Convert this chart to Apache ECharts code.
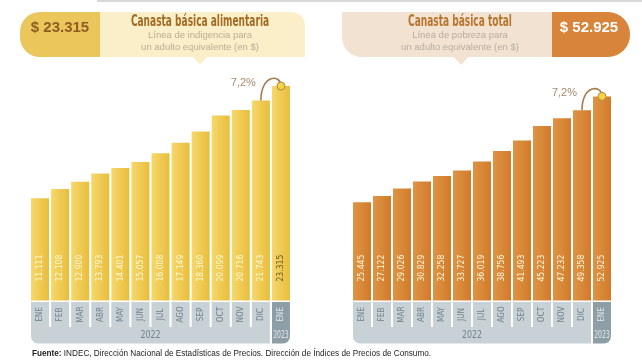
<!DOCTYPE html>
<html>
<head>
<meta charset="utf-8">
<script src="https://cdn.jsdelivr.net/npm/echarts@6/dist/echarts.min.js"></script>
<style>
html,body{margin:0;padding:0;background:#fff;}
#c{width:642px;height:361px;}
</style>
</head>
<body>
<div id="c"></div>
<script>
// ---- data ----
const months = ['ENE','FEB','MAR','ABR','MAY','JUN','JUL','AGO','SEP','OCT','NOV','DIC','ENE'];
const yearOf = ['2022','2022','2022','2022','2022','2022','2022','2022','2022','2022','2022','2022','2023'];
const cbaValues = [11111,12108,12900,13793,14401,15057,16008,17149,18360,20099,20716,21743,23315];
const cbtValues = [25445,27122,29026,30829,32258,33727,36019,38756,41493,45223,47232,49358,52925];
const cbaTitle = 'Canasta básica alimentaria';
const cbaSub = ['Línea de indigencia para', 'un adulto equivalente (en $)'];
const cbtTitle = 'Canasta básica total';
const cbtSub = ['Línea de pobreza para', 'un adulto equivalente (en $)'];
const cbaChange = '7,2%';
const cbtChange = '7,2%';
const sourceBold = 'Fuente:';
const sourceText = ' INDEC, Dirección Nacional de Estadísticas de Precios. Dirección de Índices de Precios de Consumo.';

// ---- helpers ----
const fmt = v => String(v).replace(/\B(?=(\d{3})+(?!\d))/g, '.');
const NARROW = '"DejaVu Sans Condensed","Liberation Sans Narrow",sans-serif';
const SANS = '"Liberation Sans",Arial,sans-serif';

const chart = echarts.init(document.getElementById('c'), null, {renderer: 'canvas'});

function barSeries(idx, values, c1, c2, lastLabelColor) {
  return {
    type: 'bar', xAxisIndex: idx, yAxisIndex: idx, barWidth: 18,
    data: values.map((v, i) => ({
      value: v,
      label: i === values.length - 1 ? {color: lastLabelColor} : undefined
    })),
    itemStyle: {
      color: new echarts.graphic.LinearGradient(0, 0, 1, 0, [
        {offset: 0, color: c1}, {offset: 1, color: c2}
      ])
    },
    label: {
      show: true, position: 'insideBottom', rotate: 90, align: 'left',
      verticalAlign: 'middle', distance: 19,
      fontFamily: NARROW, fontSize: 8.5, color: '#fff8dc',
      formatter: p => fmt(p.value)
    },
    silent: true, z: 2
  };
}

function cellSeries(idx) {
  return {
    type: 'custom', xAxisIndex: idx, yAxisIndex: idx, clip: false, silent: true, z: 3,
    data: months.map((m, i) => [i, 0]),
    renderItem: (params, api) => {
      const i = params.dataIndex;
      const p = api.coord([i, 0]);
      const cx = p[0], base = p[1];
      const lastYear = yearOf[yearOf.length - 1];
      const dark = yearOf[i] === lastYear;
      const cellColor = dark ? '#8e9ea7' : '#c7d1d6';
      const textColor = dark ? '#dfe6ea' : '#72828b';
      const children = [
        {type: 'rect', shape: {x: cx - 9, y: base + 1.5, width: 18, height: 25}, style: {fill: cellColor}},
        {type: 'text', x: cx, y: base + 14, rotation: Math.PI / 2, scaleX: 0.9,
         style: {text: months[i], fontFamily: NARROW, fontSize: 9, fill: textColor, align: 'center', verticalAlign: 'middle'}}
      ];
      if (i === 0 || yearOf[i] !== yearOf[i - 1]) {
        let j = i;
        while (j + 1 < yearOf.length && yearOf[j + 1] === yearOf[i]) j++;
        const x0 = cx - 9;
        const x1 = api.coord([j, 0])[0] + 9;
        const isFirst = i === 0;
        const isLast = j === yearOf.length - 1;
        children.push({type: 'rect',
          shape: {x: x0, y: base + 26.5, width: x1 - x0, height: 16.5, r: [0, 0, isLast ? 7 : 0, isFirst ? 7 : 0]},
          style: {fill: cellColor}});
        children.push({type: 'text', x: (x0 + x1) / 2, y: base + 34.5, scaleX: dark ? 0.62 : 0.8,
          style: {text: yearOf[i], fontFamily: NARROW, fontSize: 11, fill: textColor, align: 'center', verticalAlign: 'middle'}});
      }
      return {type: 'group', children};
    }
  };
}

function changeSeries(idx, values, label) {
  const n = values.length;
  return {
    type: 'custom', xAxisIndex: idx, yAxisIndex: idx, clip: false, silent: true, z: 4,
    data: [[n - 2, values[n - 2], n - 1, values[n - 1]]],
    encode: {x: [0, 2], y: [1, 3]},
    renderItem: (params, api) => {
      const p1 = api.coord([api.value(0), api.value(1)]);
      const p2 = api.coord([api.value(2), api.value(3)]);
      const top = p2[1] - 12;
      return {type: 'group', children: [
        {type: 'bezierCurve', shape: {x1: p1[0], y1: p1[1], cpx1: p1[0], cpy1: top, cpx2: p2[0], cpy2: top, x2: p2[0], y2: p2[1]},
         style: {stroke: '#a67c52', lineWidth: 1.6, fill: null}},
        {type: 'circle', shape: {cx: p2[0], cy: p2[1], r: 4}, style: {fill: '#f4d444', stroke: '#b08a4a', lineWidth: 1}},
        {type: 'text', x: p1[0] - 5, y: p2[1] - 3,
         style: {text: label, fontFamily: SANS, fontSize: 11, fill: '#a98b6b', align: 'right', verticalAlign: 'middle'}}
      ]};
    }
  };
}

const option = {
  animation: false,
  backgroundColor: '#ffffff',
  grid: [
    {left: 30, width: 261, top: 61.3, bottom: 60.5},
    {left: 352, width: 260, top: 69.1, bottom: 60.5}
  ],
  xAxis: [
    {gridIndex: 0, type: 'category', data: months, axisLine: {show: false}, axisTick: {show: false}, axisLabel: {show: false}},
    {gridIndex: 1, type: 'category', data: months, axisLine: {show: false}, axisTick: {show: false}, axisLabel: {show: false}}
  ],
  yAxis: [
    {gridIndex: 0, type: 'value', min: 0, max: 26000, show: false, splitLine: {show: false}},
    {gridIndex: 1, type: 'value', min: 0, max: 60000, show: false, splitLine: {show: false}}
  ],
  series: [
    barSeries(0, cbaValues, '#f6d86a', '#e8bd3c', '#6e5b26'),
    barSeries(1, cbtValues, '#de9445', '#d17b2a', '#fff3e0'),
    cellSeries(0),
    cellSeries(1),
    changeSeries(0, cbaValues, cbaChange),
    changeSeries(1, cbtValues, cbtChange)
  ],
  graphic: [
    {type: 'rect', shape: {x: 97, y: 0, width: 545, height: 2}, style: {fill: '#d8d8d8'}, silent: true},
    // left header
    {type: 'rect', shape: {x: 90, y: 12, width: 215, height: 45, r: [0, 14, 0, 0]}, style: {fill: '#fbefc9'}, silent: true},
    {type: 'rect', shape: {x: 20, y: 12, width: 80, height: 45, r: [20, 0, 0, 20]}, style: {fill: '#ebc65b'}, silent: true},
    {type: 'polygon', shape: {points: [[192, 56], [208, 56], [200, 65]]}, style: {fill: '#fbefc9'}, silent: true},
    {type: 'text', x: 60, y: 28, style: {text: '$ ' + fmt(cbaValues[cbaValues.length - 1]), fontFamily: SANS, fontWeight: 'bold', fontSize: 15, fill: '#8f5d22', align: 'center', verticalAlign: 'middle'}},
    {type: 'text', x: 200, y: 22.5, scaleX: 0.67, style: {text: cbaTitle, fontFamily: NARROW, fontWeight: 'bold', fontSize: 15, fill: '#a36a22', align: 'center', verticalAlign: 'middle'}},
    {type: 'text', x: 200, y: 35, style: {text: cbaSub[0], fontFamily: SANS, fontSize: 9.5, fill: '#b8ad96', align: 'center', verticalAlign: 'middle'}},
    {type: 'text', x: 200, y: 47, style: {text: cbaSub[1], fontFamily: SANS, fontSize: 9.5, fill: '#b8ad96', align: 'center', verticalAlign: 'middle'}},
    // right header
    {type: 'rect', shape: {x: 342, y: 12, width: 220, height: 45, r: [0, 0, 0, 20]}, style: {fill: '#f2e2d2'}, silent: true},
    {type: 'rect', shape: {x: 552, y: 12, width: 78, height: 45, r: [0, 22, 22, 0]}, style: {fill: '#d8853b'}, silent: true},
    {type: 'polygon', shape: {points: [[453, 56], [469, 56], [461, 65]]}, style: {fill: '#f2e2d2'}, silent: true},
    {type: 'text', x: 589, y: 28, style: {text: '$ ' + fmt(cbtValues[cbtValues.length - 1]), fontFamily: SANS, fontWeight: 'bold', fontSize: 15, fill: '#ffffff', align: 'center', verticalAlign: 'middle'}},
    {type: 'text', x: 460, y: 22.5, scaleX: 0.67, style: {text: cbtTitle, fontFamily: NARROW, fontWeight: 'bold', fontSize: 15, fill: '#b8752d', align: 'center', verticalAlign: 'middle'}},
    {type: 'text', x: 460, y: 35, style: {text: cbtSub[0], fontFamily: SANS, fontSize: 9.5, fill: '#b8ad9e', align: 'center', verticalAlign: 'middle'}},
    {type: 'text', x: 460, y: 47, style: {text: cbtSub[1], fontFamily: SANS, fontSize: 9.5, fill: '#b8ad9e', align: 'center', verticalAlign: 'middle'}},
    // source
    {type: 'text', x: 32, y: 354, style: {
      text: '{b|' + sourceBold + '}{n|' + sourceText + '}',
      verticalAlign: 'middle',
      rich: {
        b: {fontFamily: SANS, fontWeight: 'bold', fontSize: 8.2, fill: '#222'},
        n: {fontFamily: SANS, fontSize: 8.2, fill: '#222'}
      }
    }}
  ]
};
chart.setOption(option);
</script>
</body>
</html>
